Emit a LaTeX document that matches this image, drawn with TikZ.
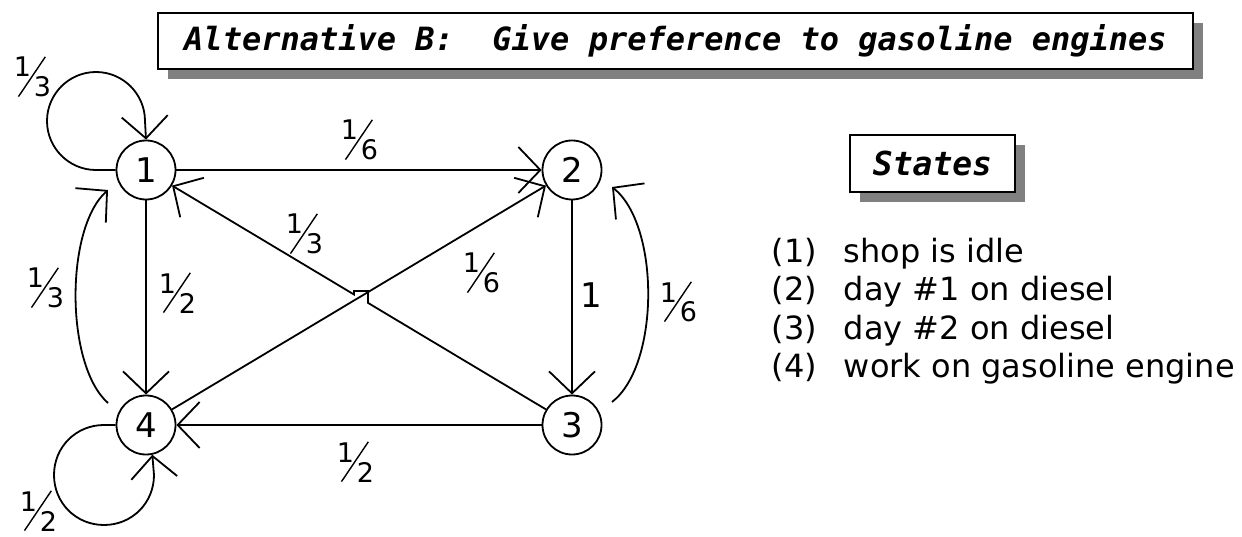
\documentclass[tikz,border=0pt]{standalone}
\usepackage{fontspec}
\usepackage{graphicx}
\setmainfont{DejaVu Sans}
\newfontfamily\titlefont{DejaVu Sans Mono}
\usetikzlibrary{arrows.meta,calc}
\newcommand\frc[2]{\hbox{\rlap{\kern-4pt\raisebox{20pt}{#1}}\rlap{\rotatebox{56}{\rule{48pt}{1.4pt}}}\kern16pt #2}}
\begin{document}
\begin{tikzpicture}[x=1pt,y=-1pt,line width=1.8pt,
  state/.style={circle,draw,minimum size=59pt,inner sep=0pt,font=\fontsize{34}{34}\selectfont},
  arr/.style={-{Straight Barb[length=22pt,width=46pt,line width=1.8pt]}},
  lab/.style={inner sep=0pt,anchor=base west,font=\fontsize{27}{27}\selectfont},
  item/.style={inner sep=0pt,anchor=base west,font=\fontsize{32}{32}\selectfont},
  box/.style={draw,line width=2pt,fill=white,inner sep=0pt,anchor=north west,
    font=\titlefont\bfseries\itshape\fontsize{32}{32}\selectfont},
  shadow/.style={fill=black!50,draw=none}]
\useasboundingbox (0,0) rectangle (1242,537);

% title and states boxes
\fill[shadow] (168,23) rectangle (1203,79);
\node[box,minimum width=1035pt,minimum height=56pt] (title) at (157,12)
  {Alternative B:~~Give preference to gasoline engines};
\fill[shadow] (860,145) rectangle (1025,202);
\node[box,minimum width=165pt,minimum height=57pt,font=\titlefont\bfseries\itshape\fontsize{33}{33}\selectfont] (states) at (849,134) {States};

% states
\node[state] (n1) at (146,170) {1};
\node[state] (n2) at (572,170) {2};
\node[state] (n3) at (572,425) {3};
\node[state] (n4) at (146,425) {4};

% straight edges
\draw[arr] (n1) -- (n2);
\draw[arr] (n1) -- (n4);
\draw[arr] (n2) -- (n3);
\draw[arr] (n3) -- (n4);
\draw[arr] (n4) -- (n2);
\coordinate (h1) at (368,302.9);
\coordinate (h2) at (368,291);
\coordinate (h3) at (354,291);
\coordinate (h4) at (354,294.5);
\draw[arr] (n3) -- (h1) -- (h2) -- (h3) -- (h4) -- (n1);

% side arcs
\draw[arr] ($(n4)+(-38,-22)$) .. controls ($(n4)+(-81,-60)$) and ($(n1)+(-81,58)$) .. ($(n1)+(-38,20)$);
\draw[arr] ($(n3)+(40,-23)$) .. controls ($(n3)+(88,-60)$) and ($(n2)+(88,55)$) .. ($(n2)+(40,17)$);

% self loops
\draw[arr] (n1.west) -- ($(n1)+(-50,0)$)
  .. controls ($(n1)+(-77,0)$) and ($(n1)+(-99,-22)$) .. ($(n1)+(-99,-49)$)
  .. controls ($(n1)+(-99,-76)$) and ($(n1)+(-77,-98)$) .. ($(n1)+(-50,-98)$)
  .. controls ($(n1)+(-23,-98)$) and ($(n1)+(-1,-76)$) .. ($(n1)+(-1,-49)$)
  -- (n1.north);
\draw[arr] (n4.west) -- ($(n4)+(-42,0)$)
  .. controls ($(n4)+(-70,0)$) and ($(n4)+(-92,22)$) .. ($(n4)+(-92,50)$)
  .. controls ($(n4)+(-92,78)$) and ($(n4)+(-70,100)$) .. ($(n4)+(-42,100)$)
  .. controls ($(n4)+(-14,100)$) and ($(n4)+(8,78)$) .. ($(n4)+(8,50)$)
  -- (n4.-78);

% edge labels
\node[lab] (l11) at (17,97) {\frc{1}{3}};
\node[lab] (l12) at (344,160) {\frc{1}{6}};
\node[lab] (l14) at (162,313) {\frc{1}{2}};
\node[lab] (l41) at (30,308) {\frc{1}{3}};
\node[lab] (l31) at (289,254) {\frc{1}{3}};
\node[lab] (l42) at (466,293) {\frc{1}{6}};
\node[lab,font=\fontsize{34}{34}\selectfont] (l23) at (580,308) {1};
\node[lab] (l32) at (663,322) {\frc{1}{6}};
\node[lab] (l34) at (340,482) {\frc{1}{2}};
\node[lab] (l44) at (23,531) {\frc{1}{2}};

% state list
\node[item] (s1n) at (771,263) {(1)};
\node[item] (s1) at (843,263) {shop is idle};
\node[item] (s2n) at (771,301) {(2)};
\node[item] (s2) at (843,301) {day \#1 on diesel};
\node[item] (s3n) at (771,339) {(3)};
\node[item] (s3) at (843,339) {day \#2 on diesel};
\node[item] (s4n) at (771,377) {(4)};
\node[item] (s4) at (843,377) {work on gasoline engine};
\end{tikzpicture}
\end{document}
